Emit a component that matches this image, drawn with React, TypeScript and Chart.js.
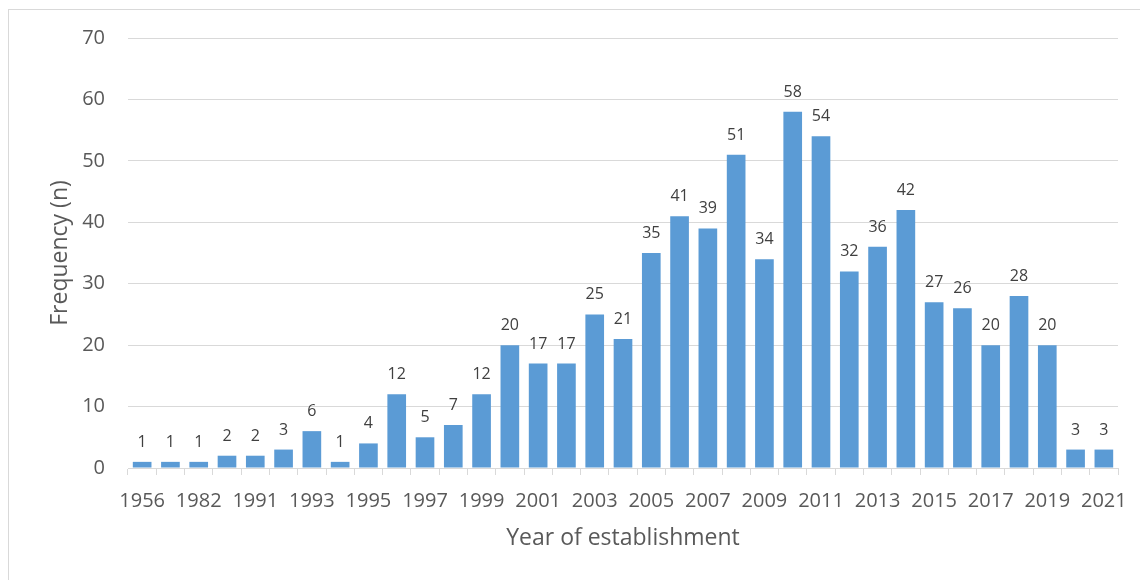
import React, { useEffect, useRef } from "react";
import { Chart, registerables } from "chart.js";

Chart.register(...registerables);

const years: string[] = [
  "1956", "1975", "1982", "1989", "1991", "1992", "1993", "1994", "1995", "1996",
  "1997", "1998", "1999", "2000", "2001", "2002", "2003", "2004", "2005", "2006",
  "2007", "2008", "2009", "2010", "2011", "2012", "2013", "2014", "2015", "2016",
  "2017", "2018", "2019", "2020", "2021",
];

const frequency: number[] = [
  1, 1, 1, 2, 2, 3, 6, 1, 4, 12,
  5, 7, 12, 20, 17, 17, 25, 21, 35, 41,
  39, 51, 34, 58, 54, 32, 36, 42, 27, 26,
  20, 28, 20, 3, 3,
];

const yTicks: number[] = [0, 10, 20, 30, 40, 50, 60, 70];

const FONT = "'Open Sans', 'DejaVu Sans', sans-serif";

const dataLabels = {
  id: "dataLabels",
  afterDatasetsDraw(chart: any) {
    const ctx = chart.ctx;
    const meta = chart.getDatasetMeta(0);
    const ds = chart.data.datasets[0];
    ctx.save();
    ctx.font = `16px ${FONT}`;
    ctx.fillStyle = "#404040";
    ctx.textAlign = "center";
    ctx.textBaseline = "alphabetic";
    meta.data.forEach((bar: any, i: number) => {
      ctx.fillText(String(ds.data[i]), bar.x, bar.y - 15);
    });
    ctx.restore();
  },
};

export default function App() {
  const ref = useRef<HTMLCanvasElement | null>(null);

  useEffect(() => {
    if (!ref.current) return;
    const chart = new Chart(ref.current, {
      type: "bar",
      data: {
        labels: years,
        datasets: [
          {
            data: frequency,
            backgroundColor: "#5B9BD5",
            borderWidth: 0,
            categoryPercentage: 1,
            barPercentage: 0.66,
          },
        ],
      },
      options: {
        animation: false,
        responsive: false,
        events: [],
        layout: { padding: { top: 28, right: 30, left: 38, bottom: 0 } },
        plugins: {
          legend: { display: false },
          tooltip: { enabled: false },
        },
        scales: {
          x: {
            afterFit: (s: any) => {
              s.height = 113;
            },
            grid: {
              drawOnChartArea: false,
              drawTicks: true,
              tickLength: 7,
              color: "#D9D9D9",
              offset: true,
            },
            border: { display: true, color: "#D9D9D9", width: 1 },
            ticks: {
              autoSkip: false,
              maxRotation: 0,
              minRotation: 0,
              padding: 14,
              color: "#595959",
              font: { family: FONT, size: 20 },
              callback: (_v: any, i: number) => (i % 2 === 0 ? years[i] : ""),
            },
            title: {
              display: true,
              text: "Year of establishment",
              color: "#595959",
              font: { family: FONT, size: 23 },
              padding: { top: 0, bottom: 29 },
            },
          },
          y: {
            min: 0,
            max: 70,
            afterFit: (s: any) => {
              s.width = 81;
              s.paddingTop = 10;
              s.paddingBottom = 10;
            },
            afterBuildTicks: (s: any) => {
              s.ticks = yTicks.map((v) => ({ value: v }));
            },
            grid: {
              drawTicks: false,
              color: "#D9D9D9",
              lineWidth: 1,
            },
            border: { display: false },
            ticks: {
              padding: 23,
              color: "#595959",
              font: { family: FONT, size: 20 },
            },
            title: {
              display: true,
              text: "Frequency (n)",
              color: "#595959",
              font: { family: FONT, size: 23 },
              padding: { top: 0, bottom: 0 },
            },
          },
        },
      },
      plugins: [dataLabels],
    });
    return () => chart.destroy();
  }, []);

  return (
    <div style={{ width: 1140, height: 572, overflow: "hidden" }}>
      <div
        style={{
          width: 1300,
          height: 700,
          marginTop: 1,
          border: "1px solid #D9D9D9",
          boxSizing: "border-box",
        }}
      >
        <canvas ref={ref} width={1139} height={571} style={{ display: "block" }} />
      </div>
    </div>
  );
}
